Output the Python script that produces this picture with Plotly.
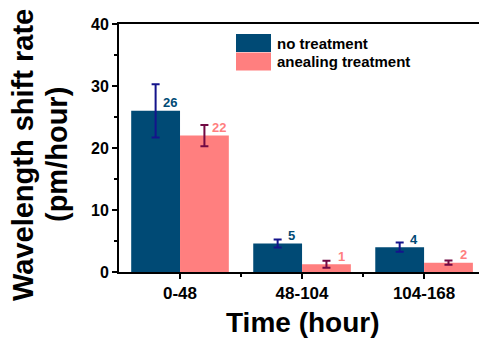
import plotly.graph_objects as go

categories = ["0-48", "48-104", "104-168"]
no_treat = [26.0, 4.6, 4.0]
no_treat_err = [4.3, 0.65, 0.75]
anneal = [22.0, 1.25, 1.5]
anneal_err = [1.7, 0.55, 0.35]
no_treat_labels = ["26", "5", "4"]
anneal_labels = ["22", "1", "2"]
series_names = ["no treatment", "anealing treatment"]
y_title_lines = ["Wavelength shift rate", "(pm/hour)"]
x_title = "Time (hour)"

BLUE = "#004a75"
PINK = "#ff7f7f"
BLUE_ERR = "#14148c"
PINK_ERR = "#720a44"
FONT = "Liberation Sans, Arial, sans-serif"

xs = list(range(len(categories)))

fig = go.Figure()
fig.add_trace(go.Bar(x=xs, y=no_treat, name=series_names[0], marker=dict(color=BLUE, line=dict(width=0)),
                     error_y=dict(type="data", array=no_treat_err, color=BLUE_ERR, thickness=2, width=4)))
fig.add_trace(go.Bar(x=xs, y=anneal, name=series_names[1], marker=dict(color=PINK, line=dict(width=0)),
                     error_y=dict(type="data", array=anneal_err, color=PINK_ERR, thickness=2, width=4)))

W, H = 479, 343
L, R, T, B = 119, 0, 24, 71
pw, ph = W - L - R, H - T - B

def px(x):
    return (x - L) / pw

def py(y):
    return (H - B - y) / ph

annotations = []
for i in xs:
    annotations.append(dict(x=i - 0.2, y=no_treat[i], xref="x", yref="y", text=f"<b>{no_treat_labels[i]}</b>",
                            showarrow=False, xshift=14, yshift=8, font=dict(family=FONT, size=13, color=BLUE)))
    annotations.append(dict(x=i + 0.2, y=anneal[i], xref="x", yref="y", text=f"<b>{anneal_labels[i]}</b>",
                            showarrow=False, xshift=15, yshift=8, font=dict(family=FONT, size=13, color=PINK)))

# axis titles
annotations.append(dict(x=1, y=py(322), xref="x", yref="paper", text=f"<b>{x_title}</b>", showarrow=False,
                        font=dict(family=FONT, size=28, color="black"), xanchor="center", yanchor="middle"))
for xc, line in zip([23, 57], y_title_lines):
    annotations.append(dict(x=px(xc), y=py(155), xref="paper", yref="paper",
                            text=f"<b>{line}</b>", showarrow=False, textangle=-90,
                            font=dict(family=FONT, size=29, color="black"), xanchor="center", yanchor="middle"))

# legend
shapes = [
    dict(type="rect", xref="paper", yref="paper", x0=px(236), x1=px(271), y0=py(52), y1=py(34),
         fillcolor=BLUE, line=dict(width=0)),
    dict(type="rect", xref="paper", yref="paper", x0=px(236), x1=px(271), y0=py(70.5), y1=py(52.5),
         fillcolor=PINK, line=dict(width=0)),
]
annotations.append(dict(x=px(275), y=py(43.5), xref="paper", yref="paper", text=f"<b>{series_names[0]}</b>",
                        showarrow=False, xanchor="left", yanchor="middle",
                        font=dict(family=FONT, size=15, color="black")))
annotations.append(dict(x=px(275), y=py(62), xref="paper", yref="paper", text=f"<b>{series_names[1]}</b>",
                        showarrow=False, xanchor="left", yanchor="middle",
                        font=dict(family=FONT, size=15, color="black")))

fig.update_layout(
    width=W, height=H,
    margin=dict(l=L, r=R, t=T, b=B, pad=0),
    paper_bgcolor="white", plot_bgcolor="white",
    barmode="group", bargap=0.2, bargroupgap=0,
    showlegend=False,
    font=dict(family=FONT, color="black"),
    annotations=annotations, shapes=shapes,
    xaxis=dict(range=[-0.5, 2.45], tickvals=xs, ticktext=[f"<b>{c}</b>" for c in categories],
               showline=True, linecolor="black", linewidth=2, mirror=True,
               ticks="outside", ticklen=5, tickwidth=2, tickcolor="black",
               minor=dict(tickvals=[0.5, 1.5], ticks="outside", ticklen=3, tickwidth=2, tickcolor="black"),
               showgrid=False, zeroline=False, tickfont=dict(family=FONT, size=17, color="black")),
    yaxis=dict(range=[0, 40], tickvals=[0, 10, 20, 30, 40], ticktext=["<b>0</b>", "<b>10</b>", "<b>20</b>", "<b>30</b>", "<b>40</b>"],
               showline=True, linecolor="black", linewidth=2,
               ticks="outside", ticklen=5, tickwidth=2, tickcolor="black",
               minor=dict(tickvals=[5, 15, 25, 35], ticks="outside", ticklen=3, tickwidth=2, tickcolor="black"),
               showgrid=False, zeroline=False, tickfont=dict(family=FONT, size=16, color="black")),
)

fig.write_html("out.html", config={"displayModeBar": False},
               post_script="document.body.style.margin='0';document.body.style.overflow='hidden';")
